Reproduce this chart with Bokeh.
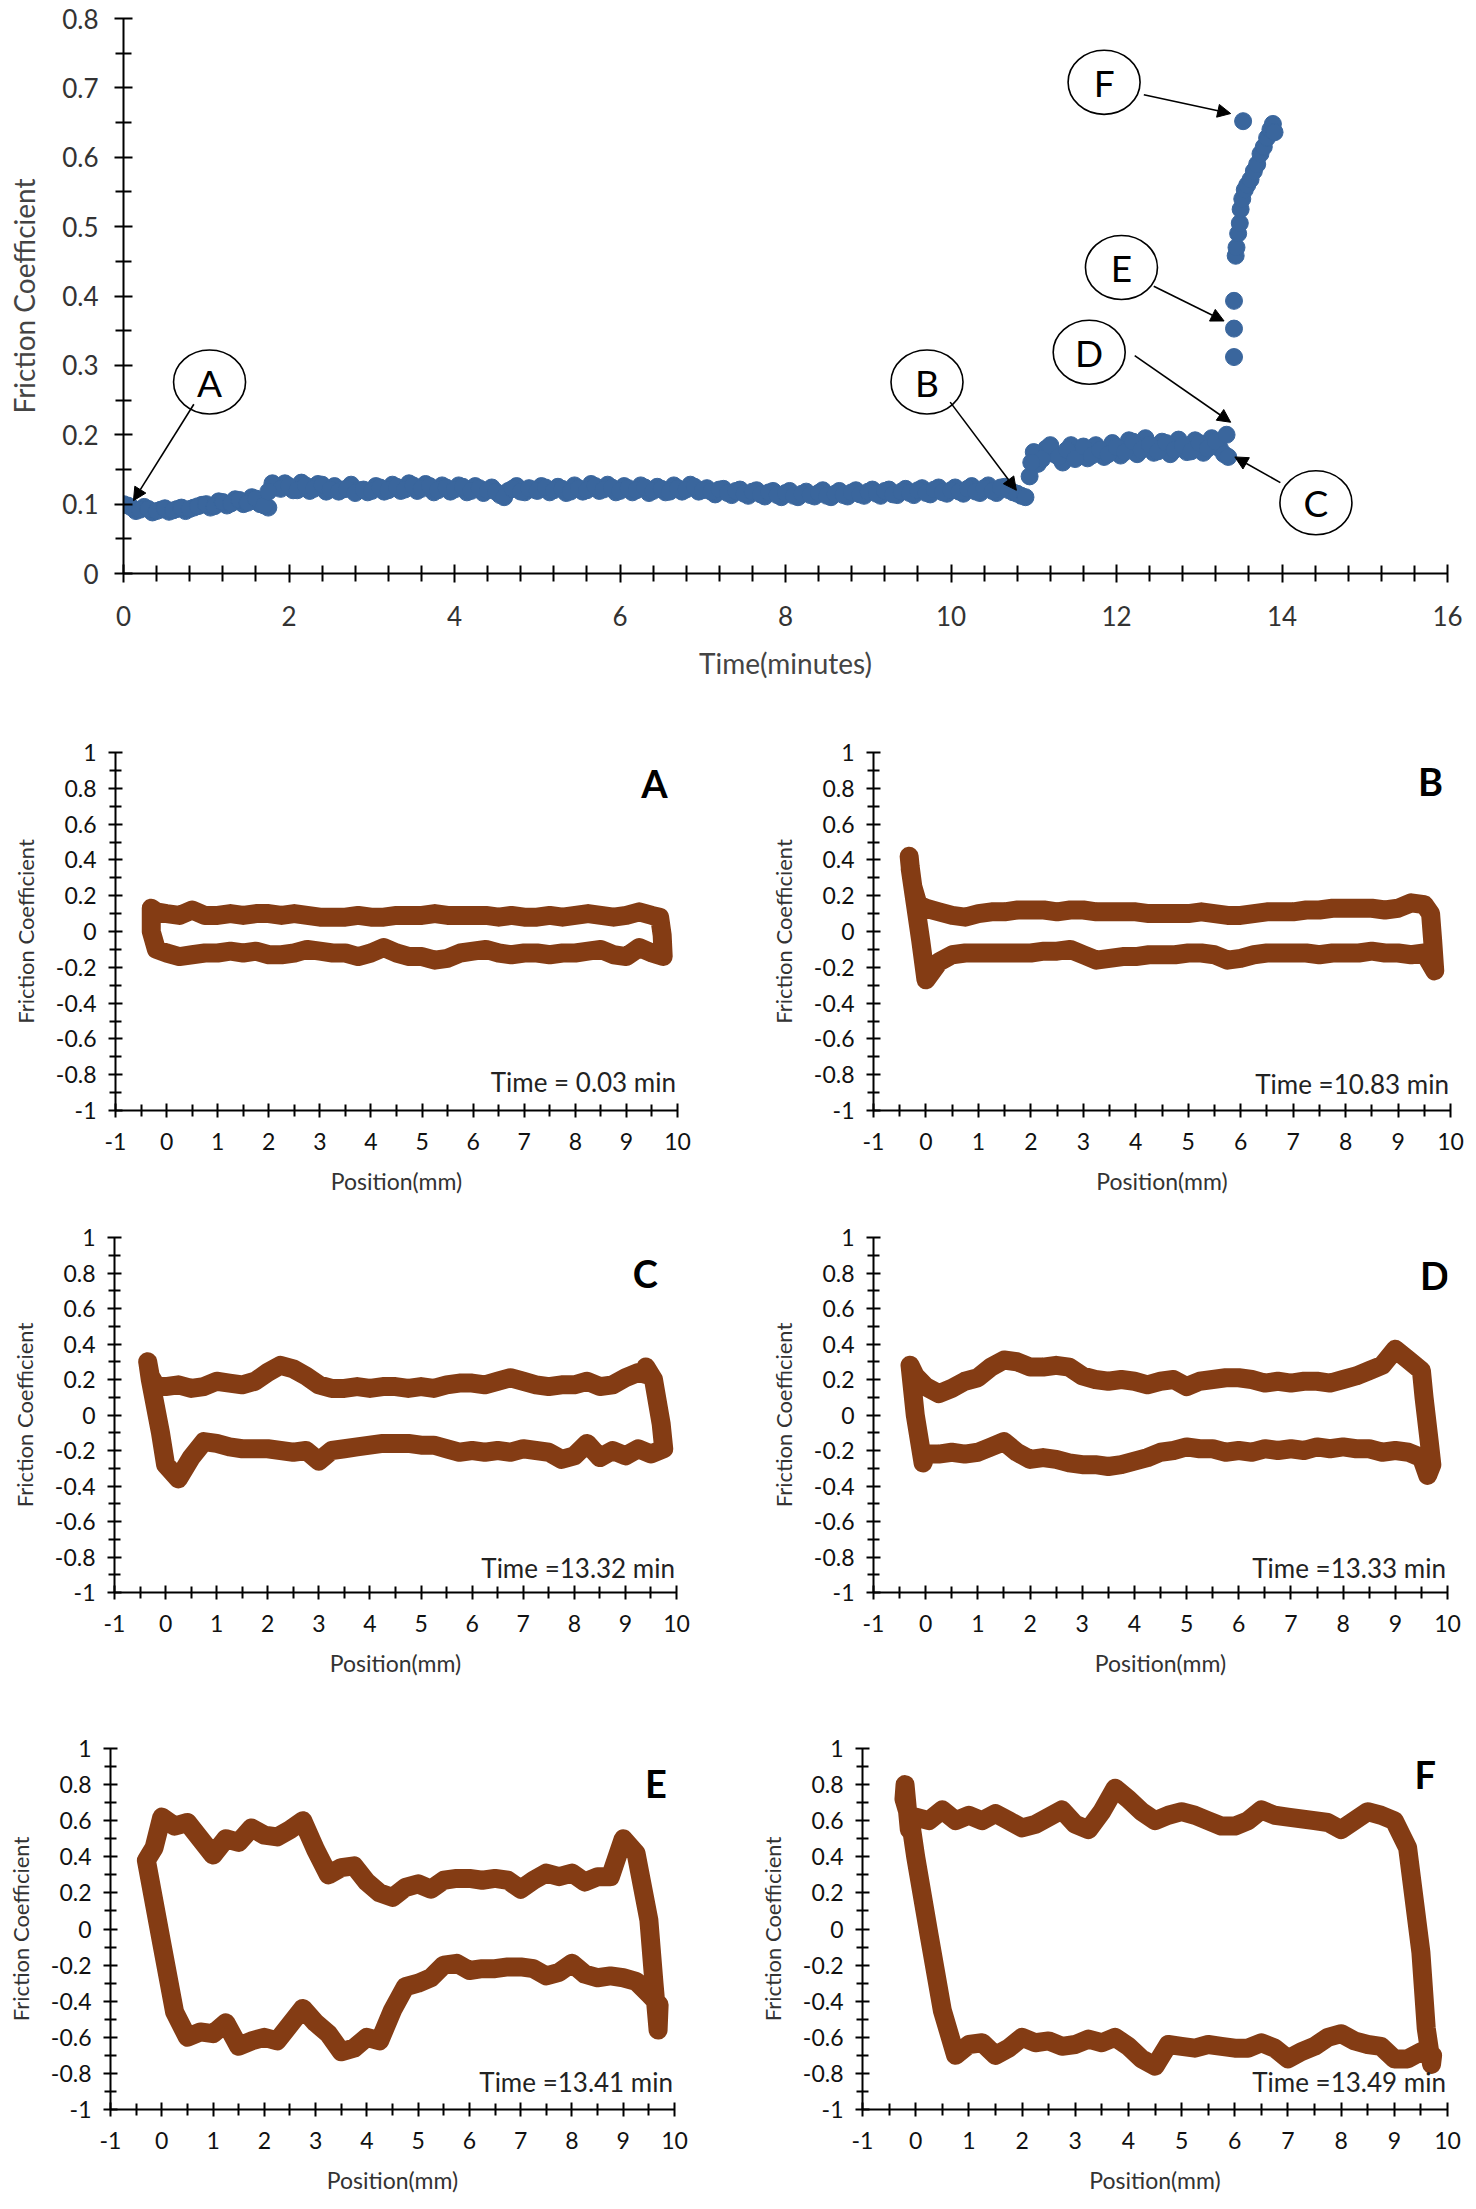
import numpy as np
from bokeh.plotting import figure
from bokeh.layouts import column, row
from bokeh.models import FixedTicker, Arrow, NormalHead, Range1d
from bokeh.core.properties import value
from bokeh.embed import file_html
from bokeh.resources import INLINE

FONT = "Lato"
BLUE = "#3A669D"
BROWN = "#843C14"

# ---------------- top chart data (friction coefficient vs time) ----------------
time_min = [
    0.0, 0.1, 0.2, 0.3, 0.4, 0.5, 0.6, 0.7, 0.8, 0.9,
    1.0, 1.1, 1.2, 1.3, 1.4, 1.5, 1.6, 1.7, 1.8, 1.9,
    2.0, 2.1, 2.2, 2.3, 2.4, 2.5, 2.6, 2.7, 2.8, 2.9,
    3.0, 3.1, 3.2, 3.3, 3.4, 3.5, 3.6, 3.7, 3.8, 3.9,
    4.0, 4.1, 4.2, 4.3, 4.4, 4.5, 4.6, 4.7, 4.8, 4.9,
    5.0, 5.1, 5.2, 5.3, 5.4, 5.5, 5.6, 5.7, 5.8, 5.9,
    6.0, 6.1, 6.2, 6.3, 6.4, 6.5, 6.6, 6.7, 6.8, 6.9,
    7.0, 7.1, 7.2, 7.3, 7.4, 7.5, 7.6, 7.7, 7.8, 7.9,
    8.0, 8.1, 8.2, 8.3, 8.4, 8.5, 8.6, 8.7, 8.8, 8.9,
    9.0, 9.1, 9.2, 9.3, 9.4, 9.5, 9.6, 9.7, 9.8, 9.9,
    10.0, 10.1, 10.2, 10.3, 10.4, 10.5, 10.6, 10.7, 10.8, 10.9,
    11.0, 11.1, 11.2, 11.3, 11.4, 11.5, 11.6, 11.7, 11.8, 11.9,
    12.0, 12.1, 12.2, 12.3, 12.4, 12.5, 12.6, 12.7, 12.8, 12.9,
    13.0, 13.1, 13.2, 13.3,
    1.75, 10.95, 10.97, 13.33, 13.35,
    13.42, 13.42, 13.42, 13.53,
    13.44, 13.45, 13.47, 13.49, 13.50, 13.52, 13.55, 13.58, 13.62,
    13.66, 13.70, 13.74, 13.78, 13.82, 13.86, 13.89, 13.91,
]
friction = [
    0.100, 0.095, 0.092, 0.093, 0.090, 0.094, 0.091, 0.095, 0.093, 0.097,
    0.100, 0.097, 0.103, 0.101, 0.106, 0.102, 0.108, 0.098, 0.130, 0.122,
    0.126, 0.120, 0.127, 0.122, 0.128, 0.121, 0.118, 0.122, 0.116, 0.121,
    0.119, 0.124, 0.120, 0.125, 0.121, 0.127, 0.122, 0.126, 0.120, 0.124,
    0.121, 0.125, 0.119, 0.123, 0.120, 0.118, 0.110, 0.122, 0.118, 0.123,
    0.119, 0.124, 0.120, 0.122, 0.118, 0.123, 0.120, 0.126, 0.121, 0.124,
    0.119, 0.123, 0.120, 0.124, 0.119, 0.122, 0.118, 0.123, 0.121, 0.125,
    0.120, 0.118, 0.121, 0.116, 0.119, 0.115, 0.118, 0.114, 0.117, 0.113,
    0.116, 0.112, 0.115, 0.113, 0.116, 0.112, 0.115, 0.113, 0.117, 0.114,
    0.118, 0.115, 0.119, 0.114, 0.118, 0.116, 0.120, 0.116, 0.121, 0.117,
    0.120, 0.118, 0.122, 0.118, 0.123, 0.119, 0.124, 0.120, 0.115, 0.110,
    0.175, 0.165, 0.185, 0.168, 0.178, 0.165, 0.183, 0.170, 0.178, 0.172,
    0.182, 0.175, 0.190, 0.178, 0.186, 0.176, 0.188, 0.178, 0.185, 0.176,
    0.188, 0.180, 0.190, 0.172,
    0.118, 0.140, 0.160, 0.200, 0.168,
    0.312, 0.353, 0.393, 0.652,
    0.458, 0.470, 0.490, 0.505, 0.525, 0.540, 0.553, 0.560, 0.568,
    0.580, 0.590, 0.605, 0.615, 0.628, 0.640, 0.648, 0.636,
]

# intermediate samples of the same record (between the 0.1-min readings)
time_half = [
    0.05, 0.15, 0.25, 0.35, 0.45, 0.55, 0.65, 0.75, 0.85, 0.95,
    1.05, 1.15, 1.25, 1.35, 1.45, 1.55, 1.65, 1.75, 1.85, 1.95,
    2.05, 2.15, 2.25, 2.35, 2.45, 2.55, 2.65, 2.75, 2.85, 2.95,
    3.05, 3.15, 3.25, 3.35, 3.45, 3.55, 3.65, 3.75, 3.85, 3.95,
    4.05, 4.15, 4.25, 4.35, 4.45, 4.55, 4.65, 4.75, 4.85, 4.95,
    5.05, 5.15, 5.25, 5.35, 5.45, 5.55, 5.65, 5.75, 5.85, 5.95,
    6.05, 6.15, 6.25, 6.35, 6.45, 6.55, 6.65, 6.75, 6.85, 6.95,
    7.05, 7.15, 7.25, 7.35, 7.45, 7.55, 7.65, 7.75, 7.85, 7.95,
    8.05, 8.15, 8.25, 8.35, 8.45, 8.55, 8.65, 8.75, 8.85, 8.95,
    9.05, 9.15, 9.25, 9.35, 9.45, 9.55, 9.65, 9.75, 9.85, 9.95,
    10.05, 10.15, 10.25, 10.35, 10.45, 10.55, 10.65, 10.75, 10.85,
    11.05, 11.15, 11.25, 11.35, 11.45, 11.55, 11.65, 11.75, 11.85, 11.95,
    12.05, 12.15, 12.25, 12.35, 12.45, 12.55, 12.65, 12.75, 12.85, 12.95,
    13.05, 13.15, 13.25,
]
friction_half = [
    0.098, 0.090, 0.096, 0.088, 0.092, 0.089, 0.093, 0.090, 0.095, 0.099,
    0.095, 0.104, 0.098, 0.107, 0.100, 0.110, 0.100, 0.095, 0.124, 0.130,
    0.120, 0.131, 0.119, 0.129, 0.118, 0.126, 0.121, 0.128, 0.120, 0.117,
    0.126, 0.118, 0.128, 0.119, 0.130, 0.119, 0.129, 0.117, 0.127, 0.118,
    0.127, 0.117, 0.126, 0.116, 0.124, 0.113, 0.119, 0.126, 0.117, 0.121,
    0.126, 0.117, 0.125, 0.116, 0.127, 0.118, 0.129, 0.119, 0.128, 0.117,
    0.126, 0.117, 0.127, 0.116, 0.125, 0.117, 0.127, 0.118, 0.128, 0.118,
    0.123, 0.114, 0.122, 0.113, 0.121, 0.112, 0.120, 0.111, 0.119, 0.110,
    0.119, 0.110, 0.118, 0.111, 0.120, 0.110, 0.119, 0.111, 0.120, 0.112,
    0.121, 0.112, 0.121, 0.113, 0.122, 0.113, 0.123, 0.114, 0.124, 0.115,
    0.124, 0.115, 0.126, 0.116, 0.127, 0.116, 0.125, 0.117, 0.112,
    0.158, 0.180, 0.172, 0.160, 0.185, 0.175, 0.166, 0.185, 0.168, 0.188,
    0.170, 0.192, 0.172, 0.195, 0.174, 0.190, 0.172, 0.193, 0.175, 0.192,
    0.174, 0.195, 0.180,
]

top_xticks = [0, 2, 4, 6, 8, 10, 12, 14, 16]
top_xlabels = ["0", "2", "4", "6", "8", "10", "12", "14", "16"]
top_yticks = [0, 0.1, 0.2, 0.3, 0.4, 0.5, 0.6, 0.7, 0.8]
top_ylabels = ["0", "0.1", "0.2", "0.3", "0.4", "0.5", "0.6", "0.7", "0.8"]

callout_names = ["A", "B", "C", "D", "E", "F"]
callout_x = [1.04, 9.71, 14.41, 11.67, 12.06, 11.85]
callout_y = [0.276, 0.276, 0.102, 0.319, 0.441, 0.708]
arrow_x0 = [0.85, 9.99, 13.98, 12.22, 12.45, 12.33]
arrow_y0 = [0.244, 0.247, 0.131, 0.314, 0.414, 0.690]
arrow_x1 = [0.12, 10.79, 13.43, 13.38, 13.30, 13.38]
arrow_y1 = [0.105, 0.120, 0.168, 0.218, 0.364, 0.663]

# ---------------- small panels (friction loops vs position) ----------------
GRID = [0, 0.25, 0.5, 0.75, 1, 1.25, 1.5, 1.75, 2, 2.25, 2.5, 2.75,
        3, 3.25, 3.5, 3.75, 4, 4.25, 4.5, 4.75, 5, 5.25, 5.5, 5.75,
        6, 6.25, 6.5, 6.75, 7, 7.25, 7.5, 7.75, 8, 8.25, 8.5, 8.75,
        9, 9.25, 9.5]

pos_xticks = [-1, 0, 1, 2, 3, 4, 5, 6, 7, 8, 9, 10]
pos_xlabels = ["-1", "0", "1", "2", "3", "4", "5", "6", "7", "8", "9", "10"]
cof_yticks = [-1, -0.8, -0.6, -0.4, -0.2, 0, 0.2, 0.4, 0.6, 0.8, 1]
cof_ylabels = ["-1", "-0.8", "-0.6", "-0.4", "-0.2", "0", "0.2", "0.4", "0.6", "0.8", "1"]

panel_letters = ["A", "B", "C", "D", "E", "F"]
panel_times = ["Time = 0.03 min", "Time =10.83 min", "Time =13.32 min",
               "Time =13.33 min", "Time =13.41 min", "Time =13.49 min"]

# Panel A (0.03 min)
A_pre_x = [-0.3, -0.2]
A_pre_y = [0.13, 0.11]
A_up = [0.10, 0.09, 0.12, 0.09, 0.09, 0.10, 0.09, 0.10, 0.10, 0.09, 0.10, 0.09,
        0.08, 0.08, 0.08, 0.09, 0.08, 0.08, 0.09, 0.09, 0.09, 0.10, 0.09, 0.09,
        0.09, 0.09, 0.08, 0.09, 0.08, 0.08, 0.09, 0.08, 0.09, 0.10, 0.09, 0.08,
        0.09, 0.11, 0.09]
A_right_x = [9.65, 9.7, 9.72]
A_right_y = [0.08, -0.02, -0.14]
A_lo = [-0.12, -0.14, -0.13, -0.12, -0.12, -0.11, -0.12, -0.11, -0.13, -0.13, -0.12, -0.10,
        -0.11, -0.12, -0.12, -0.14, -0.12, -0.09, -0.12, -0.14, -0.14, -0.16, -0.15, -0.12,
        -0.11, -0.10, -0.12, -0.13, -0.12, -0.12, -0.13, -0.12, -0.12, -0.11, -0.10, -0.13,
        -0.14, -0.09, -0.12]
A_left_x = [-0.2, -0.3, -0.3]
A_left_y = [-0.10, 0.0, 0.13]

# Panel B (10.83 min)
B_pre_x = [-0.32, -0.3, -0.25, -0.15]
B_pre_y = [0.42, 0.36, 0.25, 0.15]
B_up = [0.13, 0.11, 0.09, 0.08, 0.10, 0.11, 0.11, 0.12, 0.12, 0.12, 0.11, 0.12,
        0.12, 0.11, 0.11, 0.11, 0.11, 0.10, 0.10, 0.10, 0.10, 0.11, 0.10, 0.09,
        0.09, 0.10, 0.11, 0.11, 0.11, 0.12, 0.12, 0.13, 0.13, 0.13, 0.13, 0.12,
        0.13, 0.16, 0.15]
B_right_x = [9.62, 9.66, 9.7]
B_right_y = [0.10, -0.05, -0.22]
B_lo = [-0.27, -0.17, -0.13, -0.12, -0.12, -0.12, -0.12, -0.12, -0.12, -0.11, -0.11, -0.10,
        -0.13, -0.16, -0.15, -0.14, -0.14, -0.13, -0.13, -0.13, -0.12, -0.12, -0.13, -0.16,
        -0.15, -0.13, -0.12, -0.12, -0.12, -0.12, -0.13, -0.12, -0.12, -0.12, -0.11, -0.12,
        -0.12, -0.13, -0.12]
B_left_x = [-0.1, -0.2, -0.3]
B_left_y = [-0.05, 0.15, 0.35]

# Panel C (13.32 min)
C_pre_x = [-0.35, -0.3, -0.2]
C_pre_y = [0.30, 0.22, 0.17]
C_up = [0.16, 0.17, 0.15, 0.16, 0.19, 0.18, 0.17, 0.19, 0.24, 0.28, 0.26, 0.22,
        0.17, 0.15, 0.15, 0.16, 0.15, 0.16, 0.16, 0.15, 0.16, 0.15, 0.17, 0.18,
        0.18, 0.17, 0.19, 0.21, 0.19, 0.17, 0.16, 0.17, 0.17, 0.19, 0.16, 0.17,
        0.21, 0.24, 0.22]
C_right_x = [9.4, 9.55, 9.7, 9.75]
C_right_y = [0.27, 0.20, -0.05, -0.19]
C_lo = [-0.28, -0.36, -0.24, -0.15, -0.16, -0.18, -0.19, -0.19, -0.19, -0.20, -0.21, -0.20,
        -0.26, -0.20, -0.19, -0.18, -0.17, -0.16, -0.16, -0.16, -0.17, -0.17, -0.19, -0.21,
        -0.20, -0.21, -0.20, -0.21, -0.19, -0.20, -0.21, -0.25, -0.23, -0.16, -0.24, -0.20,
        -0.23, -0.19, -0.22]
C_left_x = [-0.1, -0.3, -0.35]
C_left_y = [-0.10, 0.20, 0.30]

# Panel D (13.33 min)
D_pre_x = [-0.3, -0.2]
D_pre_y = [0.28, 0.22]
D_up = [0.16, 0.12, 0.15, 0.19, 0.21, 0.27, 0.31, 0.30, 0.27, 0.27, 0.28, 0.27,
        0.22, 0.20, 0.19, 0.20, 0.19, 0.17, 0.19, 0.20, 0.16, 0.19, 0.20, 0.21,
        0.21, 0.20, 0.18, 0.19, 0.18, 0.19, 0.19, 0.18, 0.20, 0.22, 0.25, 0.28,
        0.37, 0.31, 0.25]
D_right_x = [9.55, 9.65, 9.7, 9.62]
D_right_y = [0.10, -0.15, -0.28, -0.34]
D_lo = [-0.22, -0.22, -0.21, -0.22, -0.21, -0.18, -0.15, -0.21, -0.25, -0.24, -0.25, -0.27,
        -0.28, -0.28, -0.29, -0.28, -0.26, -0.24, -0.21, -0.20, -0.18, -0.19, -0.19, -0.21,
        -0.20, -0.21, -0.19, -0.20, -0.19, -0.20, -0.18, -0.19, -0.18, -0.19, -0.19, -0.21,
        -0.20, -0.21, -0.24]
D_left_x = [-0.05, -0.2, -0.3]
D_left_y = [-0.27, 0.0, 0.28]

# Panel E (13.41 min)
E_pre_x = [-0.3, -0.15]
E_pre_y = [0.38, 0.45]
E_up = [0.62, 0.57, 0.59, 0.50, 0.41, 0.50, 0.48, 0.56, 0.52, 0.51, 0.55, 0.60,
        0.44, 0.30, 0.34, 0.35, 0.26, 0.20, 0.175, 0.23, 0.25, 0.22, 0.27, 0.28,
        0.28, 0.27, 0.28, 0.27, 0.22, 0.27, 0.31, 0.29, 0.31, 0.26, 0.29, 0.29,
        0.50, 0.42, 0.05]
E_right_x = [9.6, 9.68, 9.7]
E_right_y = [-0.30, -0.56, -0.42]
E_lo = [-0.08, -0.46, -0.60, -0.57, -0.58, -0.52, -0.65, -0.62, -0.60, -0.62, -0.53, -0.44,
        -0.52, -0.58, -0.68, -0.66, -0.60, -0.62, -0.45, -0.32, -0.30, -0.27, -0.20, -0.19,
        -0.23, -0.22, -0.22, -0.21, -0.21, -0.22, -0.26, -0.24, -0.19, -0.25, -0.27, -0.26,
        -0.27, -0.29, -0.36]
E_left_x = [-0.3]
E_left_y = [0.38]

# Panel F (13.49 min)
F_pre_x = [-0.22, -0.2, -0.12]
F_pre_y = [0.72, 0.80, 0.55]
F_up = [0.62, 0.60, 0.66, 0.60, 0.63, 0.60, 0.64, 0.60, 0.56, 0.58, 0.62, 0.66,
        0.58, 0.55, 0.65, 0.78, 0.72, 0.65, 0.60, 0.63, 0.65, 0.63, 0.60, 0.57,
        0.57, 0.60, 0.66, 0.63, 0.62, 0.61, 0.60, 0.59, 0.55, 0.60, 0.65, 0.63,
        0.60, 0.45, -0.13]
F_right_x = [9.6, 9.7, 9.72]
F_right_y = [-0.55, -0.75, -0.70]
F_lo = [0.40, -0.03, -0.45, -0.70, -0.64, -0.63, -0.70, -0.66, -0.60, -0.63, -0.62, -0.65,
        -0.64, -0.61, -0.63, -0.60, -0.65, -0.72, -0.76, -0.64, -0.65, -0.66, -0.64, -0.65,
        -0.66, -0.66, -0.63, -0.66, -0.72, -0.68, -0.65, -0.60, -0.58, -0.62, -0.64, -0.65,
        -0.72, -0.72, -0.68]
F_left_x = [-0.1, -0.22]
F_left_y = [0.60, 0.72]

letter_x = [9.55, 9.62, 9.39, 9.75, 9.64, 9.58]
letter_y = [0.83, 0.84, 0.80, 0.79, 0.81, 0.86]
time_y = [-0.84, -0.85, -0.86, -0.86, -0.85, -0.85]


def style(p, xt, xl, xminor, yt, yl, yminor, tick_px, xtitle_px, ytitle_px,
          tin, tout, mtin, mtout, lab_color, title_color,
          x_std, y_std, xt_std, yt_std):
    p.xaxis.ticker = FixedTicker(ticks=xt, minor_ticks=xminor)
    p.yaxis.ticker = FixedTicker(ticks=yt, minor_ticks=yminor)
    p.xaxis.major_label_overrides = dict(zip(xt, xl))
    p.yaxis.major_label_overrides = dict(zip(yt, yl))
    for ax in (p.xaxis, p.yaxis):
        ax.axis_line_color = "black"
        ax.axis_line_width = 2
        ax.major_tick_line_color = "black"
        ax.major_tick_line_width = 2
        ax.minor_tick_line_color = "black"
        ax.minor_tick_line_width = 2
        ax.major_tick_in = tin
        ax.major_tick_out = tout
        ax.minor_tick_in = mtin
        ax.minor_tick_out = mtout
        ax.major_label_text_font = FONT
        ax.major_label_text_font_size = tick_px
        ax.major_label_text_color = lab_color
        ax.axis_label_text_font = FONT
        ax.axis_label_text_font_style = "normal"
        ax.axis_label_text_color = title_color
    p.xaxis.axis_label_text_font_size = xtitle_px
    p.yaxis.axis_label_text_font_size = ytitle_px
    p.xaxis.major_label_standoff = x_std
    p.yaxis.major_label_standoff = y_std
    p.xaxis.axis_label_standoff = xt_std
    p.yaxis.axis_label_standoff = yt_std
    p.xgrid.visible = False
    p.ygrid.visible = False
    p.outline_line_color = None
    p.background_fill_color = "white"
    p.border_fill_color = "white"


# ---------------- top figure ----------------
top = figure(width=1476, height=700, output_backend="svg", toolbar_location=None,
             x_range=Range1d(0, 16), y_range=Range1d(0, 0.8),
             min_border_left=123, min_border_right=29, min_border_top=18, min_border_bottom=127,
             x_axis_label="Time(minutes)", y_axis_label="Friction Coefficient")
top_xminor = [round(0.4 * i, 2) for i in range(41) if i % 5 != 0]
top_yminor = [0.05, 0.15, 0.25, 0.35, 0.45, 0.55, 0.65, 0.75]
style(top, top_xticks, top_xlabels, top_xminor, top_yticks, top_ylabels, top_yminor,
      "26px", "28px", "28px", 9, 9, 8, 8, "#333333", "#444444", 23, 16, 17, 18)

top.scatter(time_half, friction_half, size=17, marker="circle",
            fill_color=BLUE, line_color=BLUE)
top.scatter(time_min, friction, size=17, marker="circle",
            fill_color=BLUE, line_color=BLUE)

for i in range(len(callout_names)):
    top.add_layout(Arrow(end=NormalHead(size=13, fill_color="black", line_color="black"),
                         x_start=arrow_x0[i], y_start=arrow_y0[i],
                         x_end=arrow_x1[i], y_end=arrow_y1[i],
                         line_color="black", line_width=1.6))
top.ellipse(callout_x, callout_y, width=72, height=64, width_units="screen",
            height_units="screen", fill_color="white", line_color="black", line_width=1.6)
top.text(callout_x, callout_y, text=callout_names, text_font=value(FONT),
         text_font_size=value("37px"), text_align="center", text_baseline="middle",
         text_color="black")

# ---------------- small panels ----------------
def loop_path(pre_x, pre_y, up, right_x, right_y, lo, left_x, left_y):
    xs = list(pre_x) + list(GRID) + list(right_x) + list(GRID[::-1]) + list(left_x)
    ys = list(pre_y) + list(up) + list(right_y) + list(lo[::-1]) + list(left_y)
    return xs, ys


panel_data = [
    (A_pre_x, A_pre_y, A_up, A_right_x, A_right_y, A_lo, A_left_x, A_left_y),
    (B_pre_x, B_pre_y, B_up, B_right_x, B_right_y, B_lo, B_left_x, B_left_y),
    (C_pre_x, C_pre_y, C_up, C_right_x, C_right_y, C_lo, C_left_x, C_left_y),
    (D_pre_x, D_pre_y, D_up, D_right_x, D_right_y, D_lo, D_left_x, D_left_y),
    (E_pre_x, E_pre_y, E_up, E_right_x, E_right_y, E_lo, E_left_x, E_left_y),
    (F_pre_x, F_pre_y, F_up, F_right_x, F_right_y, F_lo, F_left_x, F_left_y),
]

# (width, height, left, right, top, bottom) borders per panel
panel_geom = [
    (740, 500, 115, 63, 45, 90),
    (736, 500, 133, 26, 52, 83),
    (740, 500, 114, 64, 29, 108),
    (736, 500, 133, 29, 37, 100),
    (740, 500, 110, 66, 36, 91),
    (736, 500, 122, 29, 48, 88),
]

pos_xminor = [-0.5, 0.5, 1.5, 2.5, 3.5, 4.5, 5.5, 6.5, 7.5, 8.5, 9.5]
cof_yminor = [-0.9, -0.7, -0.5, -0.3, -0.1, 0.1, 0.3, 0.5, 0.7, 0.9]

panels = []
for i in range(6):
    w, h, bl, br, bt, bb = panel_geom[i]
    p = figure(width=w, height=h, output_backend="svg", toolbar_location=None,
               x_range=Range1d(-1, 10), y_range=Range1d(-1, 1),
               min_border_left=bl, min_border_right=br, min_border_top=bt, min_border_bottom=bb,
               x_axis_label="Position(mm)", y_axis_label="Friction Coefficient")
    style(p, pos_xticks, pos_xlabels, pos_xminor, cof_yticks, cof_ylabels, cof_yminor,
          "23px", "23px", "22px", 7, 7, 6, 6, "#111111", "#333333", 15, 12, 14, 14)
    xs, ys = loop_path(*panel_data[i])
    assert len(xs) == len(ys)
    p.line(xs, ys, line_width=19, line_color=BROWN, line_join="round", line_cap="round")
    p.text([letter_x[i]], [letter_y[i]], text=[panel_letters[i]], text_font=value(FONT),
           text_font_size=value("38px"), text_font_style="bold", text_align="center",
           text_baseline="middle", text_color="black")
    p.text([9.97], [time_y[i]], text=[panel_times[i]], text_font=value(FONT),
           text_font_size=value("26px"), text_align="right", text_baseline="middle",
           text_color="#222222")
    panels.append(p)

layout = column(top, row(panels[0], panels[1]), row(panels[2], panels[3]),
                row(panels[4], panels[5]))

open("out.html", "w").write(file_html(layout, INLINE))
